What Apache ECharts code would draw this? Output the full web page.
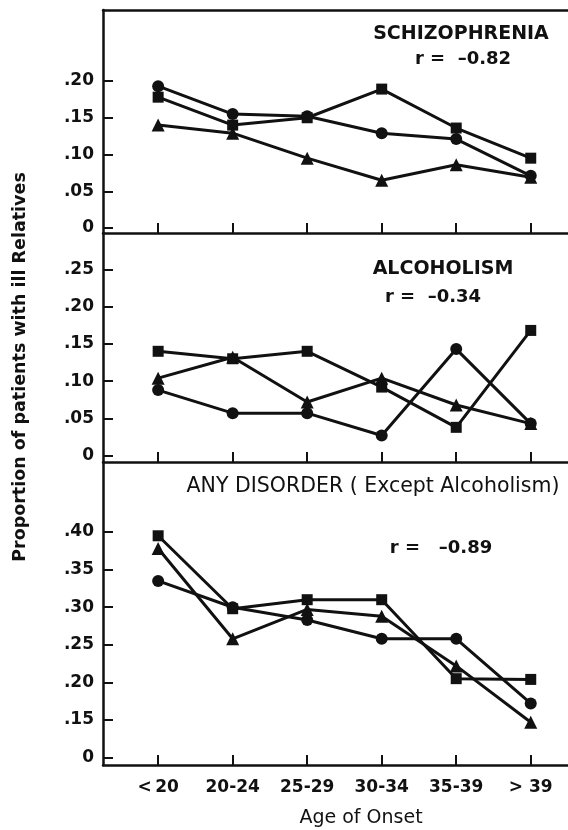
<!DOCTYPE html>
<html>
<head>
<meta charset="utf-8">
<script src="https://cdn.jsdelivr.net/npm/echarts@6/dist/echarts.min.js"></script>
<style>
html,body{margin:0;padding:0;background:#fff;}
#chart{width:568px;height:830px;}
</style>
</head>
<body>
<div id="chart"></div>
<script>
var categories = ['<\u200920', '20-24', '25-29', '30-34', '35-39', '> 39'];

// SCHIZOPHRENIA
var schizCircle   = [0.193, 0.155, 0.152, 0.129, 0.121, 0.071];
var schizSquare   = [0.178, 0.140, 0.150, 0.189, 0.136, 0.095];
var schizTriangle = [0.140, 0.129, 0.095, 0.065, 0.086, 0.069];

// ALCOHOLISM
var alcCircle   = [0.088, 0.057, 0.057, 0.027, 0.143, 0.043];
var alcSquare   = [0.140, 0.130, 0.140, 0.092, 0.038, 0.168];
var alcTriangle = [0.104, 0.132, 0.072, 0.104, 0.068, 0.043];

// ANY DISORDER (Except Alcoholism)
var anyCircle   = [0.335, 0.300, 0.283, 0.258, 0.258, 0.172];
var anySquare   = [0.395, 0.298, 0.310, 0.310, 0.205, 0.204];
var anyTriangle = [0.378, 0.258, 0.297, 0.288, 0.222, 0.147];

var ticksTop = [0, 0.05, 0.10, 0.15, 0.20];
var ticksMid = [0, 0.05, 0.10, 0.15, 0.20, 0.25];
var ticksBot = [0.10, 0.15, 0.20, 0.25, 0.30, 0.35, 0.40]; // 0.10 position shows "0" (axis break)

var FONT = '"DejaVu Sans", Verdana, sans-serif';
var BLACK = '#111';

function fmtTick(v) {
  if (Math.abs(v) < 1e-9) return '0';
  return '.' + Math.round(v * 100).toString().padStart(2, '0');
}
function fmtTickBot(v) {
  if (Math.abs(v - 0.10) < 1e-9) return '0';
  return fmtTick(v);
}

var catIdx = categories.map(function (c, i) { return i; });

var grids = [
  {left: 103, right: 0, top: 10, height: 223},
  {left: 103, right: 0, top: 233, height: 229},
  {left: 103, right: 0, top: 462, height: 303}
];

function makeX(gridIndex, showLabels) {
  return {
    type: 'value', gridIndex: gridIndex, min: -0.74, max: 5.5,
    axisLine: {show: true, onZero: false, lineStyle: {color: BLACK, width: 2.5}},
    axisTick: {show: true, inside: true, length: 10, customValues: catIdx, lineStyle: {color: BLACK, width: 2}},
    axisLabel: {show: showLabels, customValues: catIdx, formatter: function (v) { return categories[Math.round(v)]; },
      color: BLACK, fontFamily: FONT, fontWeight: 'bold', fontSize: 17, margin: 14},
    splitLine: {show: false}
  };
}
function makeY(gridIndex, min, max, ticks, fmt) {
  return {
    type: 'value', gridIndex: gridIndex, min: min, max: max,
    axisLine: {show: true, onZero: false, lineStyle: {color: BLACK, width: 2.5}},
    axisTick: {show: true, inside: true, length: 10, customValues: ticks, lineStyle: {color: BLACK, width: 2}},
    axisLabel: {show: true, customValues: ticks, formatter: fmt, color: BLACK, fontFamily: FONT,
      fontWeight: 'bold', fontSize: 17, margin: 9},
    splitLine: {show: false}
  };
}

function toPts(arr) { return arr.map(function (v, i) { return [i, v]; }); }

function mkSeries(arr, sym, size, gi) {
  return {
    type: 'line', xAxisIndex: gi, yAxisIndex: gi, data: toPts(arr),
    symbol: sym, symbolSize: size, showSymbol: true,
    lineStyle: {color: BLACK, width: 3},
    itemStyle: {color: BLACK, borderColor: BLACK, borderWidth: 0},
    emphasis: {disabled: true}, animation: false, z: 3
  };
}

var xAxes = [makeX(0, false), makeX(1, false), makeX(2, true),
  // top frame line of the top panel
  {type: 'value', gridIndex: 0, position: 'top', min: 0, max: 1,
   axisLine: {show: true, onZero: false, lineStyle: {color: BLACK, width: 2.5}},
   axisTick: {show: false}, axisLabel: {show: false}, splitLine: {show: false}}];

var yAxes = [
  makeY(0, -0.0068, 0.2966, ticksTop, fmtTick),
  makeY(1, -0.0085, 0.2987, ticksMid, fmtTick),
  makeY(2, 0.0902, 0.4931, ticksBot, fmtTickBot)
];

var series = [
  mkSeries(schizCircle, 'circle', 12, 0),
  mkSeries(schizSquare, 'rect', 11, 0),
  mkSeries(schizTriangle, 'triangle', 13, 0),
  mkSeries(alcCircle, 'circle', 12, 1),
  mkSeries(alcSquare, 'rect', 11, 1),
  mkSeries(alcTriangle, 'triangle', 13, 1),
  mkSeries(anyCircle, 'circle', 12, 2),
  mkSeries(anySquare, 'rect', 11, 2),
  mkSeries(anyTriangle, 'triangle', 13, 2)
];

function txt(x, y, s, size, weight, align) {
  return {type: 'text', x: x, y: y, silent: true,
    style: {text: s, fill: BLACK, font: weight + ' ' + size + 'px ' + FONT, textAlign: align || 'center', textVerticalAlign: 'middle'}};
}

var chart = echarts.init(document.getElementById('chart'), null, {renderer: 'canvas'});
chart.setOption({
  animation: false,
  backgroundColor: '#fff',
  grid: grids,
  xAxis: xAxes,
  yAxis: yAxes,
  series: series,
  graphic: [
    txt(461, 34, 'SCHIZOPHRENIA', 19, 'bold'),
    txt(463, 59, 'r =  \u20130.82', 18, 'bold'),
    txt(443, 269, 'ALCOHOLISM', 19, 'bold'),
    txt(433, 297, 'r =  \u20130.34', 18, 'bold'),
    txt(373, 487, 'ANY DISORDER ( Except Alcoholism)', 20.5, 'normal'),
    txt(441, 548, 'r =   \u20130.89', 18, 'bold'),
    txt(361, 818, 'Age of Onset', 19, 'normal'),
    {type: 'text', x: 20, y: 367, rotation: Math.PI / 2, silent: true,
     style: {text: 'Proportion of patients with ill Relatives', fill: BLACK,
       font: 'bold 17.5px ' + FONT, textAlign: 'center', textVerticalAlign: 'middle'}}
  ]
});
</script>
</body>
</html>
